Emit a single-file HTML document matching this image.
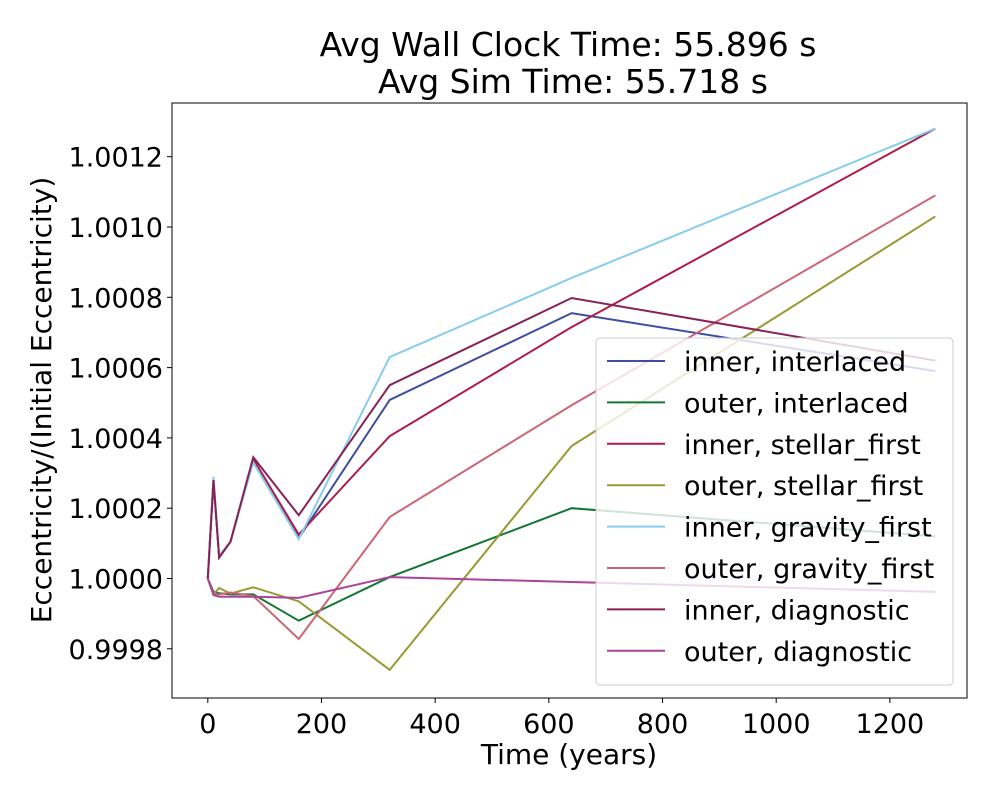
<!DOCTYPE html>
<html><head><meta charset="utf-8"><style>
body{margin:0;background:#fff}
svg text{font-family:"DejaVu Sans","Liberation Sans",sans-serif;fill:#000}
</style></head><body>
<svg id="chart" width="1000" height="800">
<text x="568" y="56" font-size="33" text-anchor="middle">Avg Wall Clock Time: 55.896 s</text>
<text x="573" y="93" font-size="33" text-anchor="middle">Avg Sim Time: 55.718 s</text>
<g id="plot"></g>
<text x="569" y="764" font-size="28" text-anchor="middle">Time (years)</text>
<text transform="translate(51,400) rotate(-90)" font-size="28" text-anchor="middle">Eccentricity/(Initial Eccentricity)</text>
</svg>
<script>
const times = [0, 10, 20, 40, 80, 160, 320, 640, 1280];
const seriesNames = ["inner, interlaced","outer, interlaced","inner, stellar_first","outer, stellar_first","inner, gravity_first","outer, gravity_first","inner, diagnostic","outer, diagnostic"];
const seriesColors = ["#3F4EA3","#117733","#B01C48","#999933","#88CCEE","#CC6677","#882255","#AA4499"];
// deviation from 1 in units of 1e-4
const innerInterlaced = [0, 2.8, 0.6, 1.05, 3.4, 1.15, 5.08, 7.55, 5.9];
const outerInterlaced = [0, -0.38, -0.42, -0.45, -0.45, -1.2, 0.04, 2.0, 1.2];
const innerStellar = [0, 2.8, 0.6, 1.05, 3.4, 1.25, 4.05, 7.15, 12.8];
const outerStellar = [0, -0.45, -0.27, -0.43, -0.25, -0.65, -2.6, 3.77, 10.3];
const innerGravity = [0, 2.9, 0.65, 1.05, 3.3, 1.12, 6.3, 8.55, 12.8];
const outerGravity = [0, -0.45, -0.45, -0.4, -0.5, -1.72, 1.75, 4.93, 10.9];
const innerDiagnostic = [0, 2.8, 0.6, 1.05, 3.45, 1.8, 5.5, 7.98, 6.2];
const outerDiagnostic = [0, -0.47, -0.52, -0.52, -0.52, -0.55, 0.04, -0.1, -0.38];
const xTicks = [0, 200, 400, 600, 800, 1000, 1200];
const yTicks = [-2, 0, 2, 4, 6, 8, 10, 12];

const allSeries = [innerInterlaced, outerInterlaced, innerStellar, outerStellar, innerGravity, outerGravity, innerDiagnostic, outerDiagnostic];
const NS = "http://www.w3.org/2000/svg";
const L = 172, R = 967, T = 103, B = 698;
const xs = t => 207.8 + t * 0.5684;
const ys = d => 578.5 - d * 35.15;
const g = document.getElementById('plot');
function mk(tag, attrs, parent) { const e = document.createElementNS(NS, tag); for (const k in attrs) e.setAttribute(k, attrs[k]); (parent || g).appendChild(e); return e; }

allSeries.forEach((s, i) => {
  const p = mk('polyline', {points: s.map((d, j) => xs(times[j]) + ',' + ys(d)).join(' '), fill: 'none', stroke: seriesColors[i], 'stroke-width': 2});
  
  
});

const frame = mk('rect', {x: L, y: T, width: R - L, height: B - T, fill: 'none', stroke: '#000', 'stroke-width': 1});



xTicks.forEach(t => {
  const x = xs(t);
  mk('line', {x1: x, x2: x, y1: B, y2: B + 5, stroke: '#000'});
  const tx = mk('text', {x: x, y: B + 35, 'font-size': 27, 'text-anchor': 'middle'});
  tx.textContent = t;
  
  
});
yTicks.forEach(d => {
  const y = ys(d);
  mk('line', {x1: L - 5, x2: L, y1: y, y2: y, stroke: '#000'});
  const tx = mk('text', {x: L - 9, y: y + 10, 'font-size': 27, 'text-anchor': 'end'});
  tx.textContent = (1 + d * 1e-4).toFixed(4);
  
  
});

const leg = mk('g', {});


mk('rect', {x: 596, y: 338, width: 357, height: 347, rx: 4, fill: 'rgba(255,255,255,0.8)', stroke: '#ccc'}, leg);
seriesNames.forEach((n, i) => {
  const y = 361 + i * 41.4;
  mk('line', {x1: 607, x2: 665, y1: y, y2: y, stroke: seriesColors[i], 'stroke-width': 2}, leg);
  const tx = mk('text', {x: 684, y: y + 10, 'font-size': 27}, leg);
  tx.textContent = n;
  
  
});
</script>
</body></html>
